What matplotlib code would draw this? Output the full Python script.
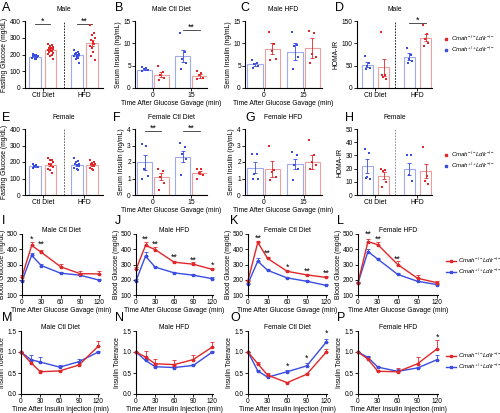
import numpy as np
import matplotlib
matplotlib.use("Agg")
import matplotlib.pyplot as plt
from matplotlib.lines import Line2D

plt.rcParams['font.family'] = ['Liberation Sans', 'DejaVu Sans']
plt.rcParams['mathtext.fontset'] = 'custom'
plt.rcParams['mathtext.rm'] = 'Liberation Sans'
plt.rcParams['mathtext.it'] = 'Liberation Sans:italic'
plt.rcParams['axes.linewidth'] = 0.8

W, H = 500, 413
RED = '#e0282a'
BLUE = '#3a4de0'
RED_L = '#eba0a0'
BLUE_L = '#a0abeb'
LAB = 4.9   # tamano de etiquetas de ejes
TCK = 4.7   # tamano de numeros

ko_label = r'$Cmah^{-/-}Ldlr^{-/-}$'
wt_label = r'$Cmah^{+/+}Ldlr^{-/-}$'

diet_labels = ['Ctl Diet', 'HFD']
gavage_labels = ['0', '15']
times = [0, 15, 30, 60, 90, 120]

# orden de barras: wt ctl, ko ctl, wt hfd, ko hfd  (o wt 0, ko 0, wt 15, ko 15)
# A - glucosa en ayunas, machos
a_mean = [188, 226, 196, 268]
a_sem = [4, 7, 6, 19]
a_pts = [[205, 200, 196, 192, 190, 186, 183, 180, 176, 172],
         [265, 258, 250, 245, 240, 236, 232, 228, 224, 220, 215, 210, 205, 200, 192, 172],
         [228, 215, 210, 205, 202, 198, 195, 190, 186, 180, 172, 150],
         [375, 330, 318, 300, 288, 275, 262, 250, 238, 215, 192, 170]]

# B - insulina, machos dieta control
b_mean = [4.1, 3.0, 7.1, 2.7]
b_sem = [0.15, 0.5, 1.3, 0.35]
b_pts = [[4.8, 4.5, 4.2, 4.0, 3.8],
         [4.9, 3.5, 3.0, 2.3, 1.8],
         [12.3, 8.0, 6.5, 5.5, 4.2],
         [3.7, 3.4, 2.8, 2.2, 2.0]]

# C - insulina, machos HFD
c_mean = [5.3, 8.8, 8.1, 8.9]
c_sem = [0.3, 1.2, 1.9, 2.2]
c_pts = [[6.2, 5.6, 5.3, 5.0, 4.4],
         [12.5, 9.8, 8.3, 6.6, 6.2],
         [12.5, 9.6, 9.5, 7.0, 4.2],
         [12.8, 12.4, 7.7, 7.0, 5.6]]

# D - HOMA-IR machos
d_mean = [52, 46, 70, 113]
d_sem = [6, 20, 8, 7]
d_pts = [[72, 55, 50, 45, 42],
         [125, 30, 25, 20, 30],
         [90, 75, 65, 60, 55],
         [140, 120, 110, 100, 95]]

# E - glucosa en ayunas, hembras
e_mean = [174, 183, 183, 179]
e_sem = [4, 8, 7, 5]
e_pts = [[185, 180, 175, 170, 165],
         [225, 215, 210, 200, 190, 180, 170, 160, 150, 135],
         [225, 205, 200, 190, 185, 180, 175, 165, 160, 150],
         [210, 200, 195, 190, 185, 180, 175, 165, 160, 150]]

# F - insulina, hembras dieta control
f_mean = [1.98, 1.11, 2.32, 1.35]
f_sem = [0.44, 0.2, 0.35, 0.1]
f_pts = [[3.1, 3.0, 1.6, 1.15, 1.0],
         [1.55, 1.45, 1.1, 0.75, 0.3],
         [3.15, 2.9, 2.5, 2.2, 1.2],
         [1.6, 1.6, 1.35, 1.2, 1.0]]

# G - insulina, hembras HFD
g_mean = [1.66, 1.58, 1.86, 2.0]
g_sem = [0.32, 0.5, 0.3, 0.4]
g_pts = [[2.5, 2.5, 1.3, 1.0, 1.0],
         [3.0, 1.5, 1.4, 1.1, 0.9],
         [2.6, 2.4, 1.8, 1.6, 0.9],
         [3.35, 2.4, 2.0, 1.8, 1.6]]

# H - HOMA-IR hembras
h_mean = [22, 14.7, 19.8, 18.3]
h_sem = [5, 2.5, 4.5, 5.5]
h_pts = [[35, 32, 14, 12, 13],
         [20, 19, 18, 9.6, 6.3],
         [30, 30, 15, 10.7],
         [36, 14.5, 10.7, 8]]

# I-L - tolerancia a la glucosa (rojo = ko, azul = wt)
i_red = [220, 425, 380, 285, 240, 238]
i_red_err = [10, 20, 15, 20, 15, 20]
i_blue = [192, 360, 293, 243, 230, 197]
i_blue_err = [8, 15, 12, 8, 8, 5]

j_red = [268, 425, 398, 315, 302, 268]
j_red_err = [15, 20, 20, 10, 12, 10]
j_blue = [193, 355, 283, 245, 230, 207]
j_blue_err = [10, 25, 10, 8, 8, 8]

k_red = [195, 445, 340, 255, 232, 215]
k_red_err = [6, 12, 12, 8, 8, 8]
k_blue = [175, 322, 262, 212, 190, 163]
k_blue_err = [5, 20, 10, 6, 8, 6]

l_red = [180, 450, 430, 300, 210, 180]
l_red_err = [5, 20, 15, 20, 20, 10]
l_blue = [178, 385, 335, 235, 190, 168]
l_blue_err = [5, 15, 10, 8, 5, 5]

# M-P - tolerancia a la insulina
m_red = [1.0, 0.75, 0.53, 0.55, 0.69, 1.14]
m_red_err = [0, 0.03, 0.03, 0.02, 0.03, 0.12]
m_blue = [1.0, 0.82, 0.76, 0.64, 0.77, 1.0]
m_blue_err = [0, 0.12, 0.12, 0.04, 0.07, 0.02]

n_red = [1.0, 0.88, 0.72, 0.7, 0.82, 1.12]
n_red_err = [0, 0.15, 0.12, 0.1, 0.1, 0.13]
n_blue = [1.0, 0.8, 0.65, 0.63, 0.68, 1.0]
n_blue_err = [0, 0.03, 0.03, 0.03, 0.03, 0.03]

o_red = [1.0, 0.72, 0.45, 0.27, 0.47, 1.0]
o_red_err = [0, 0.04, 0.05, 0.02, 0.04, 0.08]
o_blue = [1.0, 0.55, 0.40, 0.53, 0.67, 1.24]
o_blue_err = [0, 0.03, 0.04, 0.04, 0.06, 0.08]

p_red = [1.0, 0.83, 0.54, 0.53, 0.72, 1.08]
p_red_err = [0, 0.04, 0.04, 0.08, 0.15, 0.2]
p_blue = [1.0, 0.87, 0.64, 0.54, 0.62, 0.82]
p_blue_err = [0, 0.03, 0.03, 0.05, 0.03, 0.1]

fig = plt.figure(figsize=(5, 4.13), dpi=100)


def px_box(x0, x1, y0, y1):
    return [x0 / W, 1 - y1 / H, (x1 - x0) / W, (y1 - y0) / H]


def style(ax):
    ax.spines['top'].set_visible(False)
    ax.spines['right'].set_visible(False)
    ax.tick_params(labelsize=TCK, length=2, width=0.6, pad=1)


def letter(x, y, s):
    fig.text(x / W, 1 - y / H, s, fontsize=9, va='top', ha='left')


def sig_text(ax, x, y, s):
    ax.text(x, y, s, ha='center', va='center', fontsize=6.3, clip_on=False)


def bar_panel(box, pos, width, xlim, means, sems, pts, ylim, yticks, xticks, xticklabels,
              title, ylabel, xlabel=None, divider=None, sig=(), div_color='k'):
    ax = fig.add_axes(px_box(*box))
    cols = [BLUE, RED, BLUE, RED]
    edges = [BLUE_L, RED_L, BLUE_L, RED_L]
    ax.bar(pos, means, width=width, color='white', edgecolor=edges, linewidth=0.8, zorder=1)
    jit = [-0.2, 0.12, -0.05, 0.22, -0.14, 0.05, 0.18, -0.22, 0.0, 0.1, -0.1, 0.2]
    for p, m, s, c, v in zip(pos, means, sems, cols, pts):
        ax.errorbar(p, m, yerr=s, fmt='none', ecolor=c, elinewidth=0.6, capsize=1.5,
                    capthick=0.6, zorder=2)
        xs = p + np.resize(jit, len(v)) * width
        ax.scatter(xs, v, s=2.2, color=c, marker='s', linewidths=0, zorder=3)
    if divider is not None:
        ax.axvline(divider, color=div_color, ls='--', lw=0.6, dashes=(2, 1.5))
    for x0, x1, y, s in sig:
        ax.plot([x0, x1], [y, y], color='0.2', lw=0.6, clip_on=False)
        sig_text(ax, (x0 + x1) / 2, y + (ylim[1] - ylim[0]) * 0.04, s)
    ax.set_xlim(xlim)
    ax.set_ylim(ylim)
    ax.set_yticks(yticks)
    ax.set_xticks(xticks)
    ax.set_xticklabels(xticklabels)
    ax.set_title(title, fontsize=LAB, pad=7)
    ax.set_ylabel(ylabel, fontsize=LAB, labelpad=1.5)
    if xlabel:
        ax.set_xlabel(xlabel, fontsize=LAB, labelpad=0.5)
    style(ax)
    ax.tick_params(axis='x', labelsize=LAB)
    return ax


def line_panel(box, red, red_err, blue, blue_err, ylim, yticks, ytlabels, title, ylabel,
               xlabel, sig=()):
    ax = fig.add_axes(px_box(*box))
    for vals, err, c in [(blue, blue_err, BLUE), (red, red_err, RED)]:
        ax.errorbar(times, vals, yerr=[np.zeros(len(err)), err], color=c, lw=1.0,
                    marker='s', ms=2, capsize=1.5, elinewidth=0.6, capthick=0.6,
                    clip_on=False)
    for t, y, s in sig:
        sig_text(ax, t, y, s)
    ax.set_xlim(0, 121)
    ax.set_ylim(ylim)
    ax.set_yticks(yticks)
    ax.set_yticklabels(ytlabels)
    ax.set_xticks([0, 30, 60, 90, 120])
    ax.set_title(title, fontsize=LAB, pad=1.5)
    ax.set_ylabel(ylabel, fontsize=LAB, labelpad=1)
    ax.set_xlabel(xlabel, fontsize=LAB, labelpad=0.5)
    style(ax)
    return ax


gav = 'Time After Glucose Gavage (min)'
ins = 'Time After Insulin Injection (min)'
pos_diet = [0, 1, 2.7, 3.7]
pos_gav = [0, 1, 2.3, 3.3]
pos_homa = [0, 1, 2.6, 3.6]

# fila 1
bar_panel((25, 103, 21, 88), pos_diet, 0.77, (-0.65, 4.4), a_mean, a_sem, a_pts,
          (0, 400), [0, 100, 200, 300, 400], [0.5, 3.2], diet_labels, 'Male',
          'Fasting Glucose (mg/dL)', divider=1.85,
          sig=[(0, 1, 385, '*'), (2.7, 3.7, 385, '**')])
bar_panel((135, 207, 21, 88), pos_gav, 0.9, (-0.57, 3.75), b_mean, b_sem, b_pts,
          (0, 15), [0, 5, 10, 15], [0.5, 2.8], gavage_labels, 'Male Ctl Diet',
          'Serum Insulin (ng/mL)', xlabel=gav, sig=[(2.3, 3.3, 13.0, '**')])
bar_panel((245, 322, 21, 88), pos_gav, 0.9, (-0.57, 3.85), c_mean, c_sem, c_pts,
          (0, 15), [0, 5, 10, 15], [0.5, 2.8], gavage_labels, 'Male HFD',
          'Serum Insulin (ng/mL)', xlabel=gav)
bar_panel((357, 432, 21, 88), pos_homa, 0.72, (-0.64, 4.0), d_mean, d_sem, d_pts,
          (0, 150), [0, 50, 100, 150], [0.5, 3.1], diet_labels, 'Male', 'HOMA-IR',
          divider=1.7, sig=[(2.6, 3.6, 146, '*')])

# fila 2
bar_panel((25, 103, 129, 195), pos_diet, 0.77, (-0.65, 4.4), e_mean, e_sem, e_pts,
          (0, 400), [0, 100, 200, 300, 400], [0.5, 3.2], diet_labels, 'Female',
          'Fasting Glucose (mg/dL)', divider=1.85, div_color='0.3')
bar_panel((135, 207, 129, 195), pos_gav, 0.9, (-0.57, 3.75), f_mean, f_sem, f_pts,
          (0, 4), [0, 1, 2, 3, 4], [0.5, 2.8], gavage_labels, 'Female Ctl Diet',
          'Serum Insulin (ng/mL)', xlabel=gav,
          sig=[(0, 1, 3.9, '**'), (2.3, 3.3, 3.9, '**')])
bar_panel((245, 322, 129, 195), pos_gav, 0.9, (-0.57, 3.85), g_mean, g_sem, g_pts,
          (0, 4), [0, 1, 2, 3, 4], [0.5, 2.8], gavage_labels, 'Female HFD',
          'Serum Insulin (ng/mL)', xlabel=gav)
bar_panel((357, 432, 129, 195), pos_homa, 0.72, (-0.64, 4.0), h_mean, h_sem, h_pts,
          (0, 50), [0, 10, 20, 30, 40, 50], [0.5, 3.1], diet_labels, 'Female', 'HOMA-IR',
          divider=1.7, div_color='0.5')

# fila 3
g_ticks = [100, 200, 300, 400, 500]
g_tl = ['100', '200', '300', '400', '500']
line_panel((22, 100, 234, 295), i_red, i_red_err, i_blue, i_blue_err, (100, 500), g_ticks,
           g_tl, 'Male Ctl Diet', 'Blood Glucose (mg/dL)', gav,
           sig=[(15, 467, '*'), (30, 432, '**')])
line_panel((136, 213, 234, 295), j_red, j_red_err, j_blue, j_blue_err, (100, 500), g_ticks,
           g_tl, 'Male HFD', 'Blood Glucose (mg/dL)', gav,
           sig=[(15, 463, '**'), (30, 434, '**'), (60, 346, '**'), (90, 328, '**'),
                (120, 298, '*')])
line_panel((248, 327, 234, 295), k_red, k_red_err, k_blue, k_blue_err, (100, 500), g_ticks,
           g_tl, 'Female Ctl Diet', 'Blood Glucose (mg/dL)', gav,
           sig=[(15, 474, '**'), (30, 375, '**'), (60, 282, '*'), (90, 258, '**'),
                (120, 243, '**')])
line_panel((358, 438, 234, 295), l_red, l_red_err, l_blue, l_blue_err, (100, 500), g_ticks,
           g_tl, 'Female HFD', 'Blood Glucose (mg/dL)', gav,
           sig=[(15, 496, '**'), (30, 463, '**'), (60, 335, '**')])

# fila 4
t_ticks = [0, 0.5, 1.0, 1.5]
t_tl = ['0.0', '0.5', '1.0', '1.5']
line_panel((21, 99, 331, 394), m_red, m_red_err, m_blue, m_blue_err, (0, 1.5), t_ticks,
           t_tl, 'Male Ctl Diet', 'Insulin Tolerance', ins)
line_panel((136, 213, 331, 394), n_red, n_red_err, n_blue, n_blue_err, (0, 1.5), t_ticks,
           t_tl, 'Male HFD', 'Insulin Tolerance', ins)
line_panel((248, 327, 331, 394), o_red, o_red_err, o_blue, o_blue_err, (0, 1.5), t_ticks,
           t_tl, 'Female Ctl Diet', 'Insulin Tolerance', ins,
           sig=[(60, 0.66, '*'), (90, 0.84, '*'), (120, 1.45, '*')])
line_panel((358, 438, 331, 394), p_red, p_red_err, p_blue, p_blue_err, (0, 1.5), t_ticks,
           t_tl, 'Female HFD', 'Insulin Tolerance', ins, sig=[(120, 1.34, '*')])

# letras de panel
for x, y, s in [(2, 2, 'A'), (115, 2, 'B'), (240, 2, 'C'), (335, 2, 'D'),
                (2, 112, 'E'), (113, 112, 'F'), (245, 112, 'G'), (345, 112, 'H'),
                (2, 215, 'I'), (115, 215, 'J'), (230, 215, 'K'), (337, 215, 'L'),
                (2, 312, 'M'), (115, 312, 'N'), (230, 312, 'O'), (337, 312, 'P')]:
    letter(x, y, s)

# leyendas
pt_handles = [Line2D([], [], ls='none', marker='s', ms=1.8, color=RED),
              Line2D([], [], ls='none', marker='s', ms=1.8, color=BLUE)]
ln_handles = [Line2D([], [], color=RED, lw=1.0, marker='s', ms=2),
              Line2D([], [], color=BLUE, lw=1.0, marker='s', ms=2)]
labels = [ko_label, wt_label]
for yc, hnd, x0, hl in [(44, pt_handles, 444, 0.8), (160, pt_handles, 444, 0.8),
                        (266, ln_handles, 446, 1.6), (361, ln_handles, 446, 1.6)]:
    fig.legend(hnd, labels, loc='center left', bbox_to_anchor=(x0 / W, 1 - yc / H),
               frameon=False, fontsize=4.4, handlelength=hl, handletextpad=0.3,
               labelspacing=0.35, borderpad=0, borderaxespad=0)

plt.savefig("out.png", dpi=100)
